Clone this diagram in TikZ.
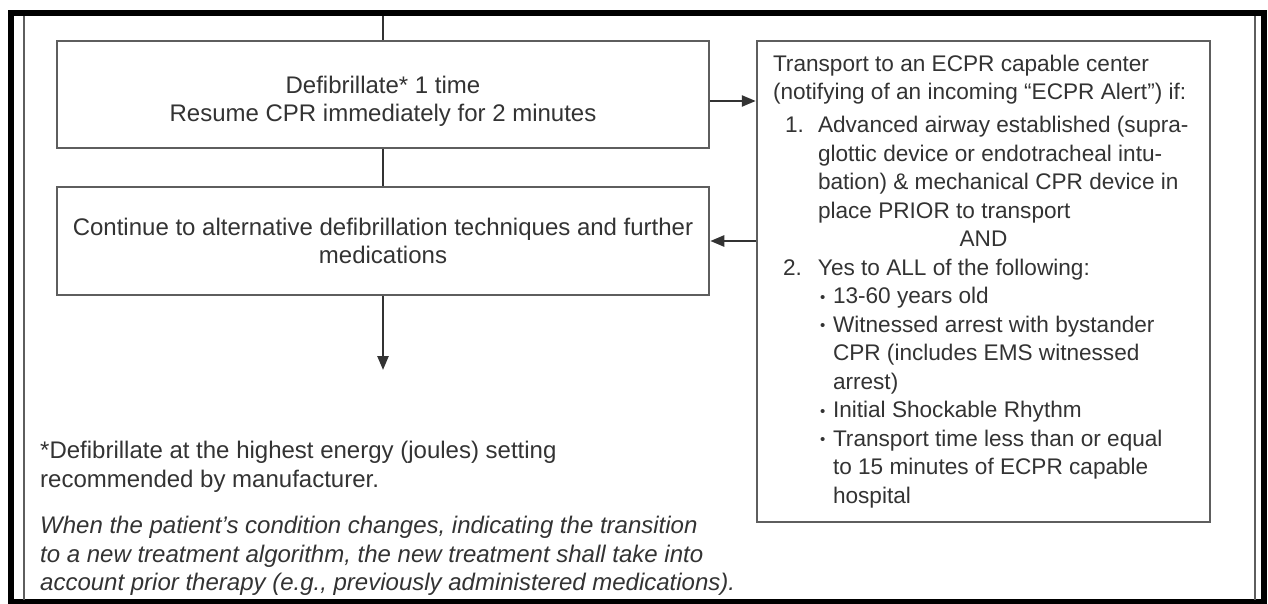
\documentclass[tikz,border=0pt]{standalone}
\usepackage{fontspec}
\setmainfont{Liberation Sans}
\usetikzlibrary{arrows.meta}
\definecolor{inkgray}{HTML}{333333}
\definecolor{framegray}{HTML}{5E5E5E}
\newcommand{\dotitem}{\makebox[13pt][l]{\raisebox{1.5pt}{\fontsize{15}{15}\selectfont\textbullet}}}
\begin{document}
\begin{tikzpicture}[x=1pt,y=-1pt,
        every node/.style={font=\fontsize{24}{28.5}\selectfont, text=inkgray},
        box/.style={draw=framegray, line width=2.5pt, inner sep=0pt},
        link/.style={draw=inkgray, line width=2.5pt},
        flow/.style={link, -{Triangle[length=14pt,width=11pt]}}]
    \fill[white] (0,0) rectangle (1268,604);
    \useasboundingbox (0,0) rectangle (1268,604);
    \draw[line width=6pt] (11,13.5) rectangle (1263.5,602);
    \draw[framegray, line width=2.5pt] (24,16) -- (24,600);
    \draw[framegray, line width=2.5pt] (1255,16) -- (1255,600);

    \node[box, align=center, minimum width=652pt, minimum height=107pt] (defib) at (383,94.5)
        {\rule{0pt}{31pt}Defibrillate* 1 time\\Resume CPR immediately for 2 minutes};
    \node[box, align=center, minimum width=652pt, minimum height=108pt] (altern) at (383,241)
        {Continue to alternative defibrillation techniques and further\\medications};
    \node[box, align=left, inner xsep=16pt, minimum width=453pt, minimum height=481pt,
          font=\fontsize{22.6}{28.5}\selectfont] (ecpr) at (983.5,281.5)
        {Transport to an ECPR capable center\\
         (notifying of an incoming “ECPR Alert”) if:\\[4.5pt]
         \hspace*{12pt}\makebox[33pt][l]{1.}Advanced airway established (supra-\\
         \hspace*{45pt}glottic device or endotracheal intu-\\
         \hspace*{45pt}bation) \& mechanical CPR device in\\
         \hspace*{45pt}place PRIOR to transport\\
         \makebox[421pt]{AND}\\
         \hspace*{10pt}\makebox[35pt][l]{2.}Yes to ALL of the following:\\
         \hspace*{47pt}\dotitem 13-60 years old\\
         \hspace*{47pt}\dotitem Witnessed arrest with bystander\\
         \hspace*{60pt}CPR (includes EMS witnessed\\
         \hspace*{60pt}arrest)\\
         \hspace*{47pt}\dotitem Initial Shockable Rhythm\\
         \hspace*{47pt}\dotitem Transport time less than or equal\\
         \hspace*{60pt}to 15 minutes of ECPR capable\\
         \hspace*{60pt}hospital};

    \node[align=left, anchor=north west, inner sep=0pt] (note) at (40,441)
        {*Defibrillate at the highest energy (joules) setting\\recommended by manufacturer.};
    \node[align=left, anchor=north west, inner sep=0pt, font=\fontsize{24}{28.5}\selectfont\itshape] (remark) at (40,516)
        {When the patient’s condition changes, indicating the transition\\
         to a new treatment algorithm, the new treatment shall take into\\
         account prior therapy (e.g., previously administered medications).};

    \coordinate (entry) at (383,16);
    \coordinate (onward) at (383,370);
    \draw[link] (entry) -- (defib);
    \draw[link] (defib) -- (altern);
    \draw[flow] (altern) -- (onward);
    \draw[flow] ([yshift=-6.5pt]defib.east) -- ([yshift=-6.5pt]defib.east -| ecpr.west);
    \draw[flow] (ecpr.west |- altern.east) -- (altern.east);
\end{tikzpicture}
\end{document}
